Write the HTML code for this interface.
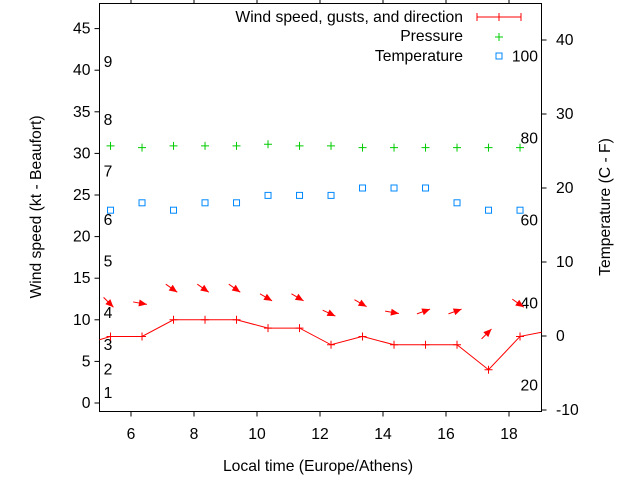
<!DOCTYPE html>
<html><head><meta charset="utf-8"><style>
body{margin:0;background:#fff}
svg{display:block;font-family:"Liberation Sans",sans-serif;font-size:15.7px}
</style></head><body>
<svg id="c" width="640" height="480"></svg>
<script>
const hours=[5.35,6.35,7.35,8.35,9.35,10.35,11.35,12.35,13.35,14.35,15.35,16.35,17.35,18.35];
const windSpeed=[8,8,10,10,10,9,9,7,8,7,7,7,4,8];
const pressure=[30.9,30.7,30.9,30.9,30.9,31.1,30.9,30.9,30.7,30.7,30.7,30.7,30.7,30.7];
const temperature=[17,18,17,18,18,19,19,19,20,20,20,18,17,17];
const gusts=[12.1,12,13.8,13.8,13.8,12.7,12.7,10.8,12,10.9,11,11,8.3,12];
const dirAngle=[45,10,35,35,35,30,30,25,30,10,-20,-20,-45,35];
const leftTicks=[0,5,10,15,20,25,30,35,40,45];
const rightTicks=[-10,0,10,20,30,40];
const xTicks=[6,8,10,12,14,16,18];
const beaufort=[["1",1.2],["2",4],["3",7],["4",10.8],["5",17],["6",22],["7",27.8],["8",34],["9",41]];
const fahr=[["20",-6.7],["40",4.4],["60",15.6],["80",26.7],["100",37.8]];
const L=99.5,R=541.5,T=3.5,B=411.5;
const X=h=>131+(h-6)*31.5;
const Y=v=>403-v*8.32;
const YR=v=>336-v*7.4;
const svg=document.getElementById('c');
const NS='http://www.w3.org/2000/svg';
function mk(t,a,txt){const e=document.createElementNS(NS,t);for(const k in a)e.setAttribute(k,a[k]);if(txt!=null)e.textContent=txt;svg.appendChild(e);return e;}
let e;
e=mk('rect',{x:L,y:T,width:R-L,height:B-T,fill:'none',stroke:'#000'});


leftTicks.forEach(v=>{mk('line',{x1:L,x2:L-5,y1:Y(v),y2:Y(v),stroke:'#000'});
e=mk('text',{x:L-9,y:Y(v)+5,'text-anchor':'end'},v);

});
rightTicks.forEach(v=>{mk('line',{x1:R,x2:R+5,y1:YR(v),y2:YR(v),stroke:'#000'});
e=mk('text',{x:556,y:YR(v)+5,'text-anchor':'start'},v);

});
xTicks.forEach(v=>{mk('line',{x1:X(v),x2:X(v),y1:B,y2:B+5,stroke:'#000'});mk('line',{x1:X(v),x2:X(v),y1:T,y2:T-5,stroke:'#000'});
e=mk('text',{x:X(v),y:439,'text-anchor':'middle'},v);

});
beaufort.forEach(b=>{e=mk('text',{x:108,y:Y(b[1])+5,'text-anchor':'middle'},b[0]);

});
fahr.forEach(f=>{e=mk('text',{x:538,y:YR(f[1])+5,'text-anchor':'end'},f[0]);

});
e=mk('text',{x:318,y:471,'text-anchor':'middle'},'Local time (Europe/Athens)');


e=mk('text',{x:0,y:0,'text-anchor':'middle',transform:'translate(41,207) rotate(-90)'},'Wind speed (kt - Beaufort)');


e=mk('text',{x:0,y:0,'text-anchor':'middle',transform:'translate(610,207) rotate(-90)'},'Temperature (C - F)');


let pts=[[L,Y(7.6)]].concat(hours.map((h,i)=>[X(h),Y(windSpeed[i])]));pts.push([R,Y(8.5)]);
e=mk('polyline',{points:pts.map(p=>p.join(',')).join(' '),fill:'none',stroke:'#f00'});


hours.forEach((h,i)=>{const x=X(h),y=Y(windSpeed[i]);
e=mk('path',{d:`M${x-4},${y}H${x+4}M${x},${y-4}V${y+4}`,stroke:'#f00'});


e=mk('path',{d:`M${x-4},${Y(pressure[i])}H${x+4}M${x},${Y(pressure[i])-4}V${Y(pressure[i])+4}`,stroke:'#0c0'});


const ty=YR(temperature[i]);
e=mk('rect',{x:x-3,y:ty-3,width:6,height:6,fill:'none',stroke:'#08f'});


const a=dirAngle[i]*Math.PI/180,cx=x-2,cy=Y(gusts[i]),dx=Math.cos(a)*7,dy=Math.sin(a)*7;
const hx=cx+dx,hy=cy+dy,bx=hx-Math.cos(a)*8,by=hy-Math.sin(a)*8,px=-Math.sin(a)*3.5,py=Math.cos(a)*3.5;
e=mk('g',{});


const l=document.createElementNS(NS,'line');l.setAttribute('x1',cx-dx);l.setAttribute('y1',cy-dy);l.setAttribute('x2',hx);l.setAttribute('y2',hy);l.setAttribute('stroke','#f00');e.appendChild(l);
const p=document.createElementNS(NS,'polygon');p.setAttribute('points',`${hx},${hy} ${bx+px},${by+py} ${bx-px},${by-py}`);p.setAttribute('fill','#f00');e.appendChild(p);
});
e=mk('text',{x:463,y:22,'text-anchor':'end'},'Wind speed, gusts, and direction');


mk('path',{d:'M477,17H521M477,13V21M499,13V21M521,13V21',stroke:'#f00'});
e=mk('text',{x:463,y:41,'text-anchor':'end'},'Pressure');


mk('path',{d:'M495,37H503M499,33V41',stroke:'#0c0'});
e=mk('text',{x:463,y:61,'text-anchor':'end'},'Temperature');


mk('rect',{x:496,y:53,width:6,height:6,fill:'none',stroke:'#08f'});
</script>
</body></html>
